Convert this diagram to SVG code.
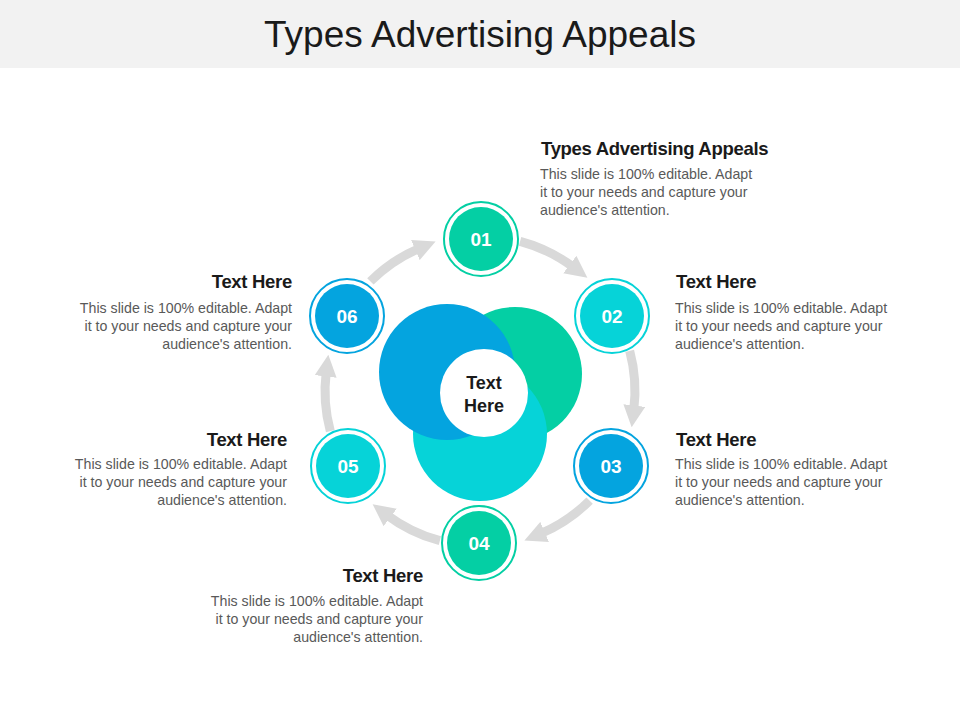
<svg xmlns="http://www.w3.org/2000/svg" width="960" height="720" viewBox="0 0 960 720">
<style>
text{font-family:"Liberation Sans",Arial,sans-serif}
.h{font-size:18.5px;font-weight:bold;fill:#1a1a1a;letter-spacing:-0.3px}
.b{font-size:14.2px;fill:#595959}
.n{font-size:19px;font-weight:bold;fill:#fff;text-anchor:middle}
.arc{fill:none;stroke:#d9d9d9;stroke-width:9}
</style>
<defs>
<marker id="ah" viewBox="0 0 10 10" refX="2" refY="5" markerWidth="22" markerHeight="22" markerUnits="userSpaceOnUse" orient="auto"><path d="M0,0 L10,5 L0,10 z" fill="#d9d9d9"/></marker>
</defs>
<rect width="960" height="720" fill="#fff"/>
<rect width="960" height="68" fill="#f2f2f2"/>
<text x="480" y="47" font-size="37" text-anchor="middle" fill="#1a1a1a">Types Advertising Appeals</text>
<g id="connectors">
<path class="arc" marker-end="url(#ah)" d="M520.1,241.3 A155,155 0 0 1 573.3,267.2"/>
<path class="arc" marker-end="url(#ah)" d="M629.7,350.9 A155,155 0 0 1 633.8,409.9"/>
<path class="arc" marker-end="url(#ah)" d="M589.6,500.6 A155,155 0 0 1 540.6,533.7"/>
<path class="arc" marker-end="url(#ah)" d="M439.9,540.7 A155,155 0 0 1 386.7,514.8"/>
<path class="arc" marker-end="url(#ah)" d="M330.3,431.1 A155,155 0 0 1 326.2,372.1"/>
<path class="arc" marker-end="url(#ah)" d="M370.4,281.4 A155,155 0 0 1 419.4,248.3"/>
</g>
<g id="center">
<circle cx="515" cy="374" r="67" fill="#04cfa4"/>
<circle cx="480" cy="434" r="67" fill="#06d3d8"/>
<circle cx="447" cy="372" r="68" fill="#04a4df"/>
<circle cx="484" cy="393" r="44" fill="#fff"/>
<text x="484" y="389" font-size="18" font-weight="bold" text-anchor="middle" fill="#1a1a1a">Text</text>
<text x="484" y="412" font-size="18" font-weight="bold" text-anchor="middle" fill="#1a1a1a">Here</text>
</g>
<g id="n01"><circle cx="481" cy="239" r="37" fill="none" stroke="#04cfa4" stroke-width="2"/><circle cx="481" cy="239" r="32" fill="#04cfa4"/><text class="n" x="481" y="246">01</text></g>
<g id="n02"><circle cx="612" cy="316" r="37" fill="none" stroke="#06d3d8" stroke-width="2"/><circle cx="612" cy="316" r="32" fill="#06d3d8"/><text class="n" x="612" y="323">02</text></g>
<g id="n03"><circle cx="611" cy="466" r="37" fill="none" stroke="#04a4df" stroke-width="2"/><circle cx="611" cy="466" r="32" fill="#04a4df"/><text class="n" x="611" y="473">03</text></g>
<g id="n04"><circle cx="479" cy="543" r="37" fill="none" stroke="#04cfa4" stroke-width="2"/><circle cx="479" cy="543" r="32" fill="#04cfa4"/><text class="n" x="479" y="550">04</text></g>
<g id="n05"><circle cx="348" cy="466" r="37" fill="none" stroke="#06d3d8" stroke-width="2"/><circle cx="348" cy="466" r="32" fill="#06d3d8"/><text class="n" x="348" y="473">05</text></g>
<g id="n06"><circle cx="347" cy="316" r="37" fill="none" stroke="#04a4df" stroke-width="2"/><circle cx="347" cy="316" r="32" fill="#04a4df"/><text class="n" x="347" y="323">06</text></g>
<g id="t01"><text class="h" x="541" y="155">Types Advertising Appeals</text>
<text class="b" x="540" y="179">This slide is 100% editable. Adapt</text><text class="b" x="540" y="197">it to your needs and capture your</text><text class="b" x="540" y="215">audience's attention.</text></g>
<g id="t02"><text class="h" x="676" y="288">Text Here</text>
<text class="b" x="675" y="313">This slide is 100% editable. Adapt</text><text class="b" x="675" y="331">it to your needs and capture your</text><text class="b" x="675" y="349">audience's attention.</text></g>
<g id="t03"><text class="h" x="676" y="446">Text Here</text>
<text class="b" x="675" y="469">This slide is 100% editable. Adapt</text><text class="b" x="675" y="487">it to your needs and capture your</text><text class="b" x="675" y="505">audience's attention.</text></g>
<g id="t04" text-anchor="end"><text class="h" x="423" y="582">Text Here</text>
<text class="b" x="423" y="606">This slide is 100% editable. Adapt</text><text class="b" x="423" y="624">it to your needs and capture your</text><text class="b" x="423" y="642">audience's attention.</text></g>
<g id="t05" text-anchor="end"><text class="h" x="287" y="446">Text Here</text>
<text class="b" x="287" y="469">This slide is 100% editable. Adapt</text><text class="b" x="287" y="487">it to your needs and capture your</text><text class="b" x="287" y="505">audience's attention.</text></g>
<g id="t06" text-anchor="end"><text class="h" x="292" y="288">Text Here</text>
<text class="b" x="292" y="313">This slide is 100% editable. Adapt</text><text class="b" x="292" y="331">it to your needs and capture your</text><text class="b" x="292" y="349">audience's attention.</text></g>
</svg>
